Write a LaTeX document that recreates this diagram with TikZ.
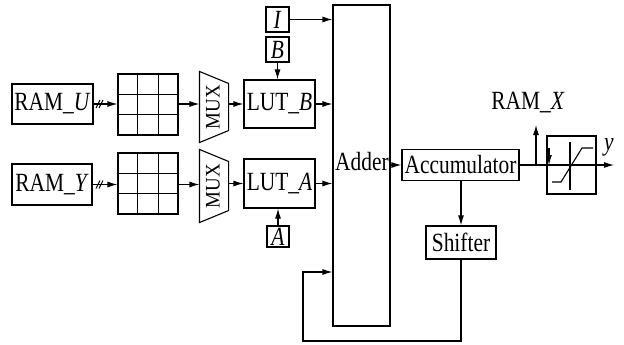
\documentclass[tikz,border=0pt]{standalone}
\usepackage{fontspec}
\setmainfont{Liberation Serif}
\usepackage{graphicx}
\usetikzlibrary{arrows.meta,calc}
\newcommand{\tl}[1]{\scalebox{1.02}[1.25]{#1}}
\begin{document}
\begin{tikzpicture}[x=1pt,y=-1pt,line width=1.1pt,
  box/.style={draw,inner sep=0pt,font=\fontsize{21}{24}\selectfont},
  arr/.style={-{Latex[length=10pt,width=6pt]}},
  lbl/.style={inner sep=0pt,font=\fontsize{21}{24}\selectfont}]
\useasboundingbox (0,0) rectangle (624,345);
% RAM blocks
\node[box,minimum width=81pt,minimum height=40pt] (ru) at (52.5,104) {\tl{RAM\_\textit{U}}};
\node[box,minimum width=80pt,minimum height=41pt] (ry) at (52,184.5) {\tl{RAM\_\textit{Y}}};
% grids
\node[box,minimum width=60pt,minimum height=61pt] (gu) at (148,104.5) {};
\node[box,minimum width=60pt,minimum height=61pt] (gy) at (148,183.5) {};
\foreach \g in {gu,gy}{
  \foreach \f in {1,2}{
    \draw ($(\g.north west)!\f/3!(\g.north east)$) -- ($(\g.south west)!\f/3!(\g.south east)$);
    \draw ($(\g.north west)!\f/3!(\g.south west)$) -- ($(\g.north east)!\f/3!(\g.south east)$);
  }
}
% MUXes
\node[inner sep=0pt,minimum width=28pt,minimum height=70pt] (mu) at (214,107) {};
\node[inner sep=0pt,minimum width=28pt,minimum height=72pt] (my) at (214,186) {};
\foreach \m in {mu,my}{
  \draw (\m.north west) -- ($(\m.north east)+(0,12)$) -- ($(\m.south east)+(0,-12)$) -- (\m.south west) -- cycle;
  \node[rotate=90,inner sep=0pt,font=\fontsize{18}{20}\selectfont] at ($(\m.center)+(-1,0)$) {\scalebox{1.05}[1.15]{MUX}};
}
% LUTs and constants
\node[box,minimum width=71pt,minimum height=48pt] (lb) at (279.5,104) {\tl{LUT\_\textit{B}}};
\node[box,minimum width=71pt,minimum height=49pt] (la) at (279.5,183.5) {\tl{LUT\_\textit{A}}};
\node[box,minimum width=23pt,minimum height=25pt] (nI) at (277.5,19.5) {\tl{\textit{I}}};
\node[box,minimum width=23pt,minimum height=25pt] (nB) at (277.5,49.5) {\tl{\textit{B}}};
\node[box,minimum width=22pt,minimum height=21pt] (nA) at (278,236.5) {\tl{\textit{A}}};
% Adder
\node[box,minimum width=57pt,minimum height=321pt] (add) at (361.5,165.5) {};
\node[lbl] at (362,162) {\tl{Adder}};
% Accumulator, saturation, shifter
\node[box,minimum width=117pt,minimum height=31pt] (acc) at (460.5,165) {\tl{Accumulator}};
\node[box,minimum width=49pt,minimum height=58pt] (sat) at (571.5,165) {};
\node[box,minimum width=70pt,minimum height=33pt] (sh) at (461,242.5) {\tl{Shifter}};
% connectors, top row
\draw[arr] (ru.east) -- (gu.west |- ru.east);
\draw (96,108) -- (100,100);
\draw (99,108) -- (103,100);
\draw[arr] (gu.east |- ru.east) -- (mu.west |- ru.east);
\draw[arr] (mu.east |- lb.west) -- (lb.west);
\draw[arr] (lb.east) -- (add.west |- lb.east);
\draw[arr] (nI.east) -- (add.west |- nI.east);
\draw[arr] (nB.south) -- (lb.north -| nB.south);
% bottom row
\draw[arr] (ry.east) -- (gy.west |- ry.east);
\draw (96,188.5) -- (100,180.5);
\draw (99,188.5) -- (103,180.5);
\draw[arr] (gy.east |- ry.east) -- (my.west |- ry.east);
\draw[arr] (my.east |- la.west) -- (la.west);
\draw[arr] (la.east) -- (add.west |- la.east);
\draw[arr] (nA.north) -- (la.south -| nA.north);
% adder to accumulator
\draw[arr] (add.east |- acc.west) -- (acc.west);
% output
\coordinate (yout) at (614,165);
\draw[arr] (acc.east) -- (yout);
\node[lbl] at (609,147) {\tl{\textit{y}}};
\draw (552,182) -- (561,182) -- (582,148) -- (593,148);
\draw (570,142) -- (570,190);
% RAM_X branch
\coordinate (bx) at (536,165);
\coordinate (rx) at (536,125);
\draw[arr] (bx) -- (rx);
\coordinate (dx0) at (549,148);
\coordinate (dx1) at (549,165);
\draw[arr] (dx0) -- (dx1);
\node[lbl] at (528,103) {\tl{RAM\_\textit{X}}};
% shifter and feedback
\draw[arr] (acc.south -| sh.north) -- (sh.north);
\coordinate (fb) at (303,341);
\draw[arr] (sh.south) |- (fb) |- (add.west |- 0,272);
\end{tikzpicture}
\end{document}
